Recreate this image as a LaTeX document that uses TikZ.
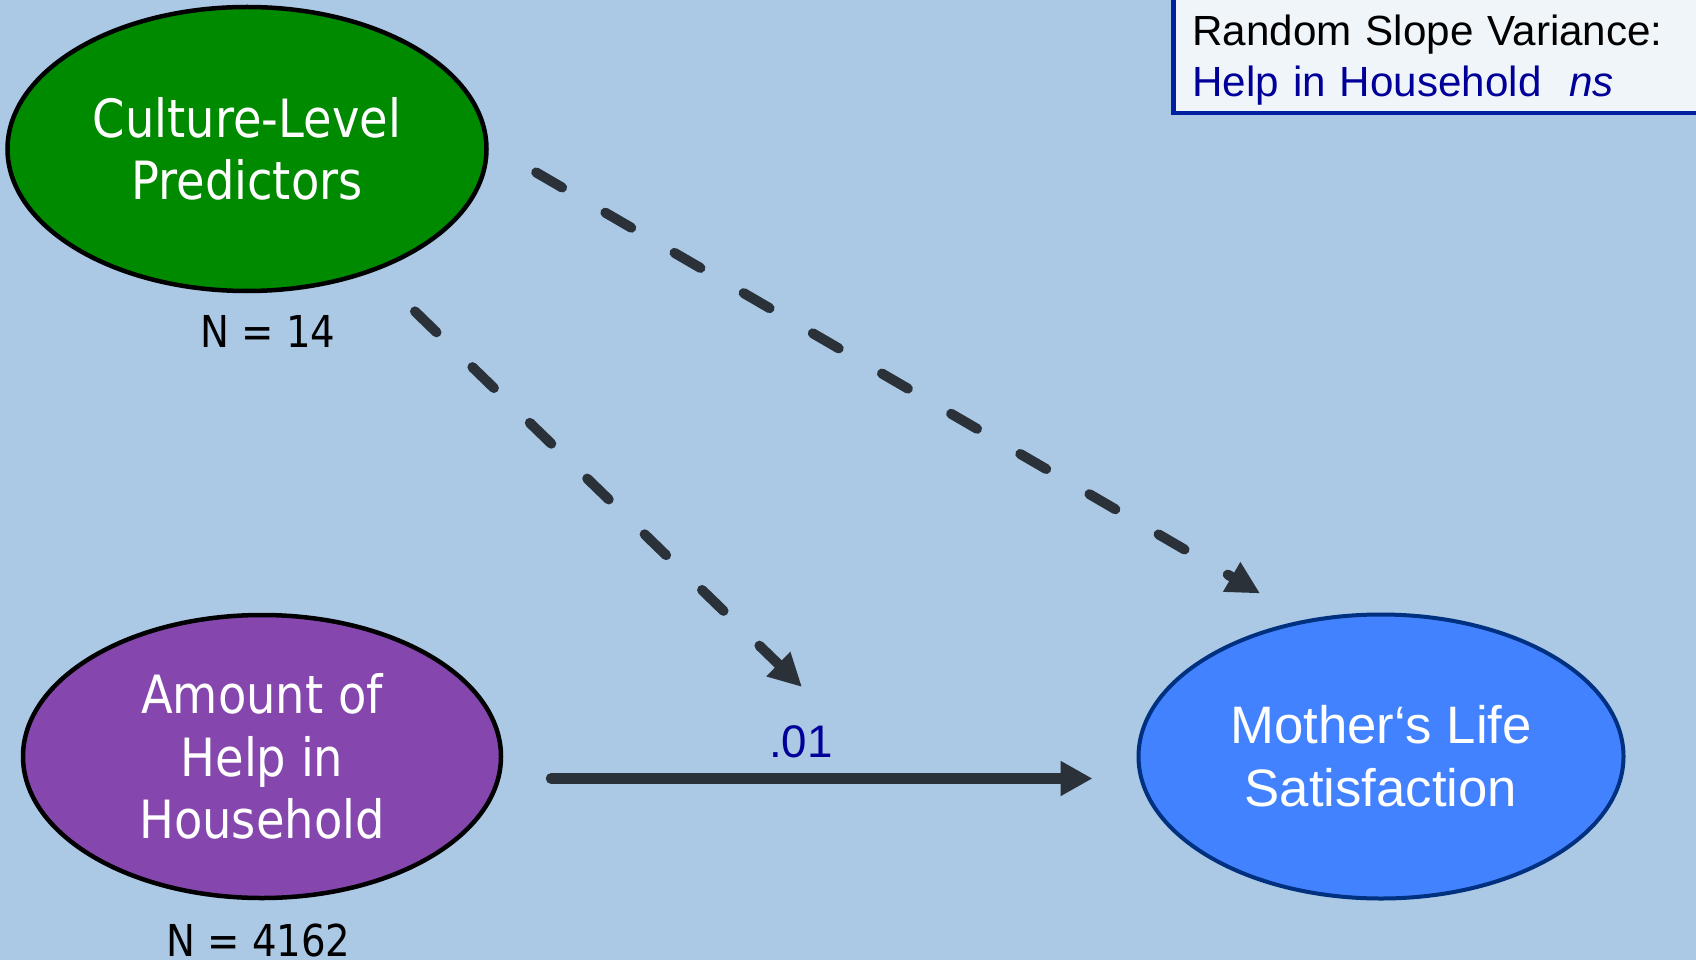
\documentclass[tikz,border=0pt]{standalone}
\usepackage{fontspec}
\setmainfont{Liberation Sans}
\newfontfamily\tahomafont[FakeStretch=0.88]{DejaVu Sans}
\usetikzlibrary{arrows.meta,shapes.geometric,positioning}

\definecolor{bgblue}{RGB}{171,200,228}
\definecolor{ovalgreen}{RGB}{0,138,0}
\definecolor{ovalpurple}{RGB}{133,71,173}
\definecolor{ovalblue}{RGB}{66,130,255}
\definecolor{ovalborder}{RGB}{0,48,128}
\definecolor{arrowgray}{RGB}{43,49,56}
\definecolor{navytext}{RGB}{0,0,153}
\definecolor{notefill}{RGB}{240,245,250}
\definecolor{noteborder}{RGB}{0,32,160}

\begin{document}
\begin{tikzpicture}[
  oval/.style={draw, ellipse, line width=0.09cm, text=white, align=center, font=\tahomafont\fontsize{30}{35.5}\selectfont},
  count/.style={font=\tahomafont\fontsize{25}{30}\selectfont},
  notebox/.style={draw=noteborder, fill=notefill, line width=0.09cm, text width=14cm, align=left, inner xsep=0.38cm, inner ysep=0.16cm, font=\fontsize{24}{29}\selectfont},
  solidarrow/.style={arrowgray, line width=0.22cm, line cap=round, -{Triangle[length=0.64cm, width=0.66cm]}},
  dasharrow/.style={arrowgray, line width=0.2cm, line cap=round, dash pattern=on 0.6cm off 1cm, -{Triangle[length=0.66cm, width=0.64cm]}}
]
  % Hintergrund
  \useasboundingbox (0,0) rectangle (33.92,-19.2);
  \fill[bgblue] (0,0) rectangle (33.92,-19.2);

  % Ebene 2
  \node[oval, fill=ovalgreen, minimum width=9.58cm, minimum height=5.68cm] (cult) at (4.94,-2.98) {Culture-Level\\Predictors};
  \node[count] (ncult) at (5.36,-6.62) {N = 14};

  % Ebene 1
  \node[oval, fill=ovalpurple, minimum width=9.56cm, minimum height=5.66cm] (help) at (5.24,-15.13) {Amount of\\Help in\\Household};
  \node[count] (nhelp) at (5.17,-18.8) {N = 4162};

  % Kriterium
  \node[oval, fill=ovalblue, draw=ovalborder, line width=0.08cm, minimum width=9.7cm, minimum height=5.68cm, font=\fontsize{30}{36}\selectfont] (moth) at (27.62,-15.13) {Mother‘s Life\\Satisfaction};

  % Random Slope
  \node[notebox, anchor=south west] (slope) at (23.42,-2.31) {\rule{0pt}{2cm}Random Slope Variance:\\\textcolor{navytext}{Help in Household\hspace{0.65em}\textit{ns}}};

  % Pfade
  \coordinate (modpt) at (16.04,-13.74);
  \draw[solidarrow, shorten <=0.96cm, shorten >=0.88cm] ([yshift=-0.44cm]help.east) -- node[above=0.31cm, pos=0.47, inner sep=0, text=navytext, font=\fontsize{26}{30}\selectfont] {.01} ([yshift=-0.44cm]moth.west);
  \draw[dasharrow, shorten <=1.1cm, shorten >=1.04cm] (cult.1) -- (moth.119);
  \draw[dasharrow, shorten <=1.14cm] (cult.-44) -- (modpt);
\end{tikzpicture}
\end{document}
